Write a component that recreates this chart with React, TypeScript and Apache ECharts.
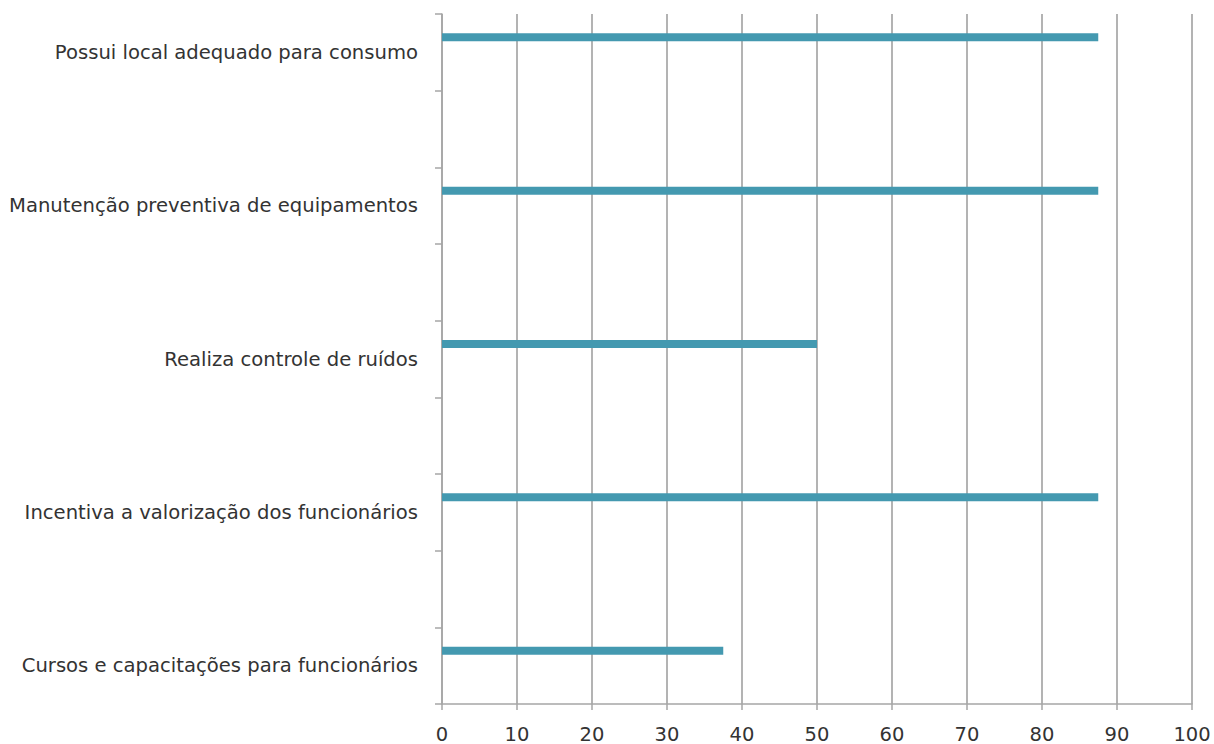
import React, { useEffect, useRef } from "react";
import * as echarts from "echarts";

const categories = [
  "Possui local adequado para consumo",
  "Manutenção preventiva de equipamentos",
  "Realiza controle de ruídos",
  "Incentiva a valorização dos funcionários",
  "Cursos e capacitações para funcionários",
];
const values = [87.5, 87.5, 50, 87.5, 37.5];
const xTicks = { min: 0, max: 100, interval: 10 };

export default function App() {
  const ref = useRef<HTMLDivElement>(null);
  useEffect(() => {
    const chart = echarts.init(ref.current!, undefined, { renderer: "svg" });
    const yCats: string[] = [];
    const mainData: (number | string)[] = [];
    const emptyData: (number | string)[] = [];
    categories.forEach((c, i) => {
      if (i > 0) {
        yCats.push(" ");
        mainData.push("-");
        emptyData.push("-");
      }
      yCats.push(c);
      mainData.push(values[i]);
      emptyData.push("-");
    });
    const font = "'DejaVu Sans', sans-serif";
    chart.setOption({
      animation: false,
      grid: { left: 442, right: 22, top: 14, bottom: 40, containLabel: false },
      xAxis: {
        type: "value",
        min: xTicks.min,
        max: xTicks.max,
        interval: xTicks.interval,
        axisLine: { show: true, lineStyle: { color: "#a6a6a6", width: 1.5 } },
        axisTick: { show: true, length: 6, lineStyle: { color: "#a6a6a6", width: 1.5 } },
        splitLine: { show: true, lineStyle: { color: "#9a9a9a", width: 1.5 } },
        axisLabel: { color: "#333333", fontFamily: font, fontSize: 19.5, margin: 20 },
      },
      yAxis: {
        type: "category",
        inverse: true,
        data: yCats,
        axisLine: { show: true, lineStyle: { color: "#a6a6a6", width: 1.5 } },
        axisTick: { show: true, length: 7, interval: 0, lineStyle: { color: "#a6a6a6", width: 1.5 } },
        axisLabel: { interval: 0, color: "#333333", fontFamily: font, fontSize: 19.6, margin: 24 },
        splitLine: { show: false },
      },
      series: [
        {
          type: "bar",
          data: mainData,
          barWidth: 8,
          barGap: "275%",
          itemStyle: { color: "#4499b0" },
        },
        {
          type: "bar",
          data: emptyData,
          barWidth: 8,
          itemStyle: { color: "#4499b0" },
        },
      ],
    });
    return () => chart.dispose();
  }, []);
  return <div ref={ref} style={{ width: 1214, height: 744, position: "absolute", left: 0, top: 0 }} />;
}
